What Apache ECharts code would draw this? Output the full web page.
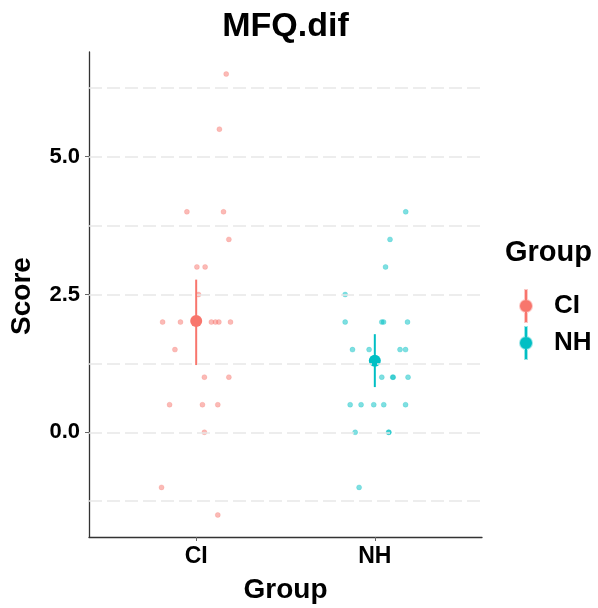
<!DOCTYPE html>
<html>
<head>
<meta charset="utf-8">
<script src="https://cdn.jsdelivr.net/npm/echarts@6/dist/echarts.min.js"></script>
<style>
  html, body { margin: 0; padding: 0; background: #fff; }
  #chart { width: 598px; height: 608px; }
</style>
</head>
<body>
<div id="chart"></div>
<script>
// Groups and their colours
const groups = ['CI', 'NH'];
const groupColors = ['#F8766D', '#00BFC4'];

// Individual MFQ.dif scores per group, with the horizontal jitter used to spread them
const ciScores = [6.5, 5.5, 4.0, 4.0, 3.5, 3.0, 3.0, 2.5, 2.0, 2.0, 2.0, 2.0, 2.0, 2.0, 1.5, 1.0, 1.0, 0.5, 0.5, 0.5, 0.0, -1.0, -1.5];
const ciJitter = [0.168, 0.130, -0.052, 0.153, 0.183, 0.004, 0.050, 0.013, -0.188, -0.088, 0.085, 0.108, 0.127, 0.192, -0.119, 0.046, 0.183, -0.149, 0.035, 0.121, 0.046, -0.194, 0.121];
const nhScores = [4.0, 3.5, 3.0, 2.5, 2.0, 2.0, 2.0, 2.0, 1.5, 1.5, 1.5, 1.5, 1.0, 1.0, 1.0, 1.0, 0.5, 0.5, 0.5, 0.5, 0.5, 0.0, 0.0, 0.0, -1.0];
const nhJitter = [0.173, 0.085, 0.060, -0.166, -0.166, 0.039, 0.049, 0.183, -0.125, -0.032, 0.141, 0.172, 0.039, 0.100, 0.103, 0.186, -0.138, -0.077, -0.006, 0.050, 0.172, -0.110, 0.077, 0.079, -0.088];

// Group means with their interval limits
const groupMeans = [2.02, 1.30];
const groupLower = [1.22, 0.82];
const groupUpper = [2.77, 1.78];

// Axis ticks and grid lines
const yTickValues = [0, 2.5, 5];
const yGridValues = [-1.25, 0, 1.25, 2.5, 3.75, 5, 6.25];
const yRange = [-1.9, 6.9];
const xRange = [0.4, 2.6];

const FONT = 'Liberation Sans, Arial, sans-serif';

const scoresByGroup = [ciScores, nhScores];
const jitterByGroup = [ciJitter, nhJitter];

function hexToRgba(hex, a) {
  const n = parseInt(hex.slice(1), 16);
  return `rgba(${(n >> 16) & 255},${(n >> 8) & 255},${n & 255},${a})`;
}

const series = [];

// Dashed horizontal grid lines
series.push({
  type: 'scatter',
  data: [],
  silent: true,
  z: 0,
  markLine: {
    silent: true,
    symbol: ['none', 'none'],
    label: { show: false },
    lineStyle: { color: '#e8e8e8', width: 1.6, type: [13, 5], opacity: 1 },
    data: yGridValues.map(v => ({ yAxis: v }))
  }
});

groups.forEach((g, i) => {
  // jittered raw scores
  series.push({
    name: g,
    type: 'scatter',
    z: 2,
    symbolSize: 5,
    itemStyle: {
      color: hexToRgba(groupColors[i], 0.5),
      borderColor: hexToRgba(groupColors[i], 0.4),
      borderWidth: 0.6,
      opacity: 1
    },
    data: scoresByGroup[i].map((v, k) => [i + 1 + jitterByGroup[i][k], v])
  });
  // interval bar
  series.push({
    name: g,
    type: 'line',
    z: 3,
    symbol: 'none',
    lineStyle: { color: groupColors[i], width: 2, opacity: 1 },
    data: [[i + 1, groupLower[i]], [i + 1, groupUpper[i]]]
  });
  // mean point
  series.push({
    name: g,
    type: 'scatter',
    z: 4,
    symbolSize: 12,
    itemStyle: { color: groupColors[i], opacity: 1 },
    data: [[i + 1, groupMeans[i]]]
  });
});

// Legend key: vertical bar with a dot in the middle
const keyIcon = 'path://M5,0 H7 V10 H5 Z M5,22 H7 V32 H5 Z M0,16 A6,6 0 1,0 12,16 A6,6 0 1,0 0,16 Z';

const chart = echarts.init(document.getElementById('chart'), null, { renderer: 'canvas' });
chart.setOption({
  animation: false,
  backgroundColor: '#ffffff',
  textStyle: { fontFamily: FONT },
  grid: { left: 89, right: 116, top: 52, bottom: 71, containLabel: false },
  xAxis: {
    type: 'value',
    min: xRange[0],
    max: xRange[1],
    splitLine: { show: false },
    axisLine: { show: true, onZero: false, lineStyle: { color: '#333333', width: 1.3 } },
    axisTick: { show: true, customValues: [1, 2], length: 4, lineStyle: { color: '#666666', width: 1 } },
    axisLabel: {
      customValues: [1, 2],
      formatter: v => groups[Math.round(v) - 1] || '',
      color: '#000000',
      fontSize: 23,
      fontWeight: 'bold',
      fontFamily: FONT,
      margin: 8
    }
  },
  yAxis: {
    type: 'value',
    min: yRange[0],
    max: yRange[1],
    splitLine: { show: false },
    axisLine: { show: true, onZero: false, lineStyle: { color: '#333333', width: 1.3 } },
    axisTick: { show: true, customValues: yTickValues, length: 4, lineStyle: { color: '#666666', width: 1 } },
    axisLabel: {
      customValues: yTickValues,
      formatter: v => v.toFixed(1),
      color: '#000000',
      fontSize: 22,
      fontWeight: 'bold',
      fontFamily: FONT,
      margin: 9
    }
  },
  legend: {
    orient: 'vertical',
    left: 514,
    top: 284,
    itemWidth: 12,
    itemHeight: 32,
    itemGap: 3,
    icon: keyIcon,
    textStyle: { fontSize: 26, fontWeight: 'bold', color: '#000000', fontFamily: FONT, padding: [0, 0, 0, 17] },
    data: groups.map((g, i) => ({ name: g, itemStyle: { color: groupColors[i], opacity: 1 } })),
    selectedMode: false
  },
  graphic: [
    {
      type: 'text', x: 285.5, y: 27,
      style: { text: 'MFQ.dif', fill: '#000', font: 'bold 34px ' + FONT, textAlign: 'center', textVerticalAlign: 'middle' }
    },
    {
      type: 'text', x: 285.5, y: 590,
      style: { text: 'Group', fill: '#000', font: 'bold 28px ' + FONT, textAlign: 'center', textVerticalAlign: 'middle' }
    },
    {
      type: 'text', x: 22.5, y: 296, rotation: Math.PI / 2,
      style: { text: 'Score', fill: '#000', font: 'bold 28px ' + FONT, textAlign: 'center', textVerticalAlign: 'middle' }
    },
    {
      type: 'text', x: 505, y: 253,
      style: { text: 'Group', fill: '#000', font: 'bold 29px ' + FONT, textAlign: 'left', textVerticalAlign: 'middle' }
    }
  ],
  series: series
});
</script>
</body>
</html>
